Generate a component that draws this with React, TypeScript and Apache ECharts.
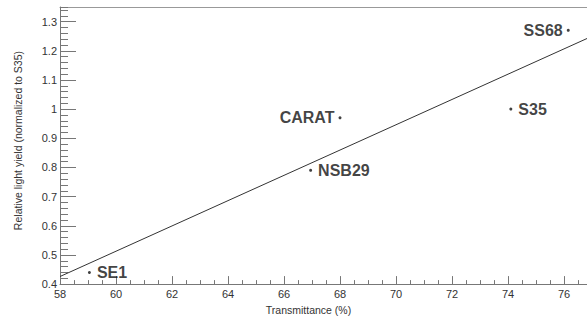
import React, { useEffect, useRef } from "react";
import * as echarts from "echarts";

// Data
const sampleNames = ["SE1", "NSB29", "CARAT", "S35", "SS68"];
const transmittance = [59.05, 66.95, 68.0, 74.1, 76.15];
const lightYield = [0.44, 0.79, 0.97, 1.0, 1.27];

// Linear fit line: endpoints
const fitX = [58, 76.82];
const fitY = [0.426, 1.242];

// Axis ranges / ticks
const xRange = [58, 76.82];
const xMajor = 2;
const xMinor = 0.5;
const yRange = [0.4, 1.35];
const yMajor = 0.1;
const yMinor = 0.02;

const xTitle = "Transmittance (%)";
const yTitle = "Relative light yield (normalized to S35)";

const FONT = "'Liberation Sans', Arial, Helvetica, sans-serif";

export default function App() {
  const ref = useRef<HTMLDivElement>(null);

  useEffect(() => {
    document.documentElement.style.margin = "0";
    document.documentElement.style.overflow = "hidden";
    document.body.style.margin = "0";
    document.body.style.overflow = "hidden";
    if (!ref.current) return;
    const chart = echarts.init(ref.current, null, { renderer: "svg", width: 587, height: 320 });
    const axisColor = "#777";
    const leftSide = new Set(["CARAT", "SS68"]);

    const points = sampleNames.map((n, i) => ({
      name: n,
      value: [transmittance[i], lightYield[i]],
      label: {
        position: leftSide.has(n) ? "left" : "right",
        distance: leftSide.has(n) ? 4 : 6,
      },
    }));

    chart.setOption({
      animation: false,
      textStyle: { fontFamily: FONT },
      grid: { left: 60, right: 0, top: 7, bottom: 29 },
      xAxis: [
        {
          type: "value",
          min: xRange[0],
          max: xRange[1],
          interval: xMajor,
          position: "bottom",
          axisLine: { show: true, onZero: false, lineStyle: { color: axisColor, width: 1 } },
          axisTick: { show: true, inside: true, length: 8, lineStyle: { color: axisColor } },
          axisLabel: { fontSize: 11, color: "#333", margin: 4, showMaxLabel: false, fontFamily: FONT },
          splitLine: { show: false },
          name: xTitle,
          nameLocation: "middle",
          nameGap: 16,
          nameTextStyle: { fontSize: 10.5, color: "#333", padding: [0, 30, 0, 0], fontFamily: FONT },
        },
        {
          type: "value",
          min: xRange[0],
          max: xRange[1],
          interval: xMinor,
          position: "bottom",
          axisLine: { show: false },
          axisTick: { show: true, inside: true, length: 4, lineStyle: { color: axisColor } },
          axisLabel: { show: false },
          splitLine: { show: false },
        },
        {
          type: "value",
          min: xRange[0],
          max: xRange[1],
          position: "top",
          axisLine: { show: true, onZero: false, lineStyle: { color: "#999", width: 1 } },
          axisTick: { show: false },
          axisLabel: { show: false },
          splitLine: { show: false },
        },
      ],
      yAxis: [
        {
          type: "value",
          min: yRange[0],
          max: yRange[1],
          interval: yMajor,
          position: "left",
          axisLine: { show: true, onZero: false, lineStyle: { color: axisColor, width: 1 } },
          axisTick: { show: true, inside: true, length: 16, lineStyle: { color: axisColor } },
          axisLabel: { fontSize: 11, color: "#333", margin: 3, showMaxLabel: false, fontFamily: FONT },
          splitLine: { show: false },
          name: yTitle,
          nameLocation: "middle",
          nameGap: 37,
          nameTextStyle: { fontSize: 10.5, color: "#333", padding: [0, 0, 0, 10], fontFamily: FONT },
        },
        {
          type: "value",
          min: yRange[0],
          max: yRange[1],
          interval: yMinor,
          position: "left",
          axisLine: { show: false },
          axisTick: { show: true, inside: true, length: 8, lineStyle: { color: axisColor } },
          axisLabel: { show: false },
          splitLine: { show: false },
        },
      ],
      series: [
        {
          type: "line",
          xAxisIndex: 0,
          yAxisIndex: 0,
          data: fitX.map((x, i) => [x, fitY[i]]),
          showSymbol: false,
          symbol: "none",
          lineStyle: { color: "#333", width: 1 },
          silent: true,
          clip: true,
        },
        {
          type: "scatter",
          xAxisIndex: 0,
          yAxisIndex: 0,
          data: points,
          symbol: "circle",
          symbolSize: 3,
          itemStyle: { color: "#111" },
          label: {
            show: true,
            formatter: (p: any) => p.name,
            fontSize: 16,
            fontWeight: "bold",
            color: "#111",
            fontFamily: FONT,
          },
        },
      ],
    });
    return () => chart.dispose();
  }, []);

  return (
    <>
      <style>{"html,body{margin:0;overflow:hidden} #root svg{display:block}"}</style>
      <div
        ref={ref}
        style={{ width: 587, height: 320, overflow: "hidden", position: "relative", background: "#fff" }}
      />
    </>
  );
}
